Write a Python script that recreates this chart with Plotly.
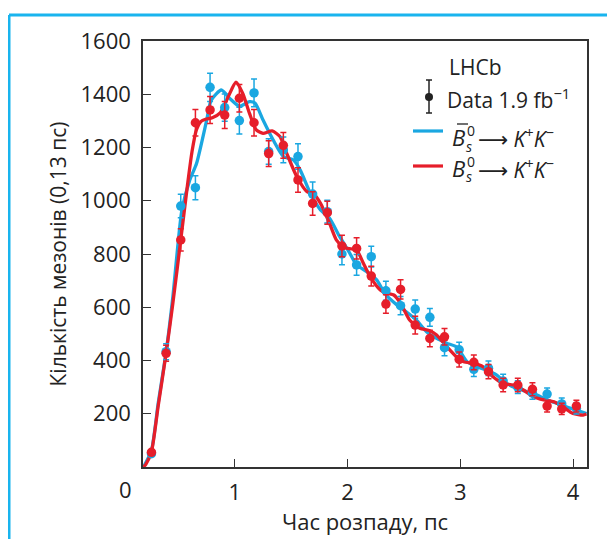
import plotly.graph_objects as go

# ---- data ----
bins = [0.26, 0.39, 0.52, 0.65, 0.78, 0.91, 1.04, 1.17, 1.30, 1.43,
        1.56, 1.69, 1.82, 1.95, 2.08, 2.21, 2.34, 2.47, 2.60, 2.73,
        2.86, 2.99, 3.12, 3.25, 3.38, 3.51, 3.64, 3.77, 3.90, 4.03]

blue_pts = [50, 433, 980, 1049, 1426, 1350, 1301, 1405, 1185, 1191,
            1166, 1025, 959, 800, 759, 790, 662, 606, 593, 562,
            448, 440, 367, 371, 323, 300, 277, 274, 237, 220]
blue_err = [10, 30, 44, 45, 53, 51, 50, 52, 48, 48,
            48, 45, 43, 40, 39, 39, 36, 34, 34, 33,
            30, 29, 27, 27, 25, 24, 23, 23, 22, 21]

red_pts = [55, 427, 853, 1293, 1341, 1322, 1385, 1293, 1177, 1208,
           1078, 990, 955, 830, 821, 717, 612, 667, 533, 483,
           489, 404, 393, 358, 308, 308, 292, 229, 218, 229]
red_err = [10, 30, 42, 50, 51, 51, 52, 50, 48, 48,
           46, 44, 43, 40, 40, 37, 35, 36, 33, 31,
           31, 28, 28, 27, 25, 25, 24, 22, 21, 22]

red_t = [0.19, 0.21, 0.26, 0.32, 0.39, 0.45, 0.52, 0.58, 0.62, 0.66,
         0.70, 0.74, 0.80, 0.87, 0.94, 1.01, 1.07, 1.13, 1.19, 1.25,
         1.33, 1.40, 1.46, 1.55, 1.64, 1.70, 1.76, 1.84, 1.90, 1.96,
         1.99, 2.08, 2.14, 2.20, 2.29, 2.35, 2.41, 2.47, 2.55, 2.64,
         2.73, 2.79, 2.88, 2.97, 3.03, 3.12, 3.20, 3.29, 3.38, 3.47,
         3.56, 3.65, 3.74, 3.83, 3.91, 4.00, 4.09, 4.12]
red_y = [0, 10, 57, 230, 427, 615, 853, 1060, 1185, 1268,
         1298, 1306, 1312, 1330, 1390, 1445, 1403, 1328, 1266, 1253,
         1262, 1241, 1178, 1090, 1034, 1025, 990, 915, 853, 827,
         822, 815, 765, 715, 665, 652, 646, 615, 552, 521,
         512, 496, 452, 412, 395, 389, 377, 339, 314, 308,
         289, 264, 252, 245, 226, 201, 195, 199]

blue_t = [0.19, 0.26, 0.32, 0.39, 0.45, 0.53, 0.60, 0.66, 0.75, 0.79,
          0.88, 0.96, 1.04, 1.13, 1.18, 1.25, 1.34, 1.43, 1.52, 1.58,
          1.67, 1.76, 1.84, 1.93, 2.01, 2.08, 2.17, 2.26, 2.33, 2.44,
          2.52, 2.61, 2.70, 2.79, 2.88, 2.97, 3.06, 3.15, 3.23, 3.32,
          3.41, 3.50, 3.59, 3.68, 3.77, 3.86, 3.94, 4.03, 4.12]
blue_y = [0, 62, 240, 432, 640, 965, 1078, 1140, 1303, 1378,
          1416, 1382, 1355, 1372, 1366, 1303, 1228, 1166, 1153, 1115,
          1028, 965, 934, 865, 810, 759, 734, 702, 652, 608,
          583, 552, 508, 483, 465, 450, 395, 377, 364, 346,
          314, 296, 283, 270, 252, 239, 226, 214, 201]

y_ticks = [200, 400, 600, 800, 1000, 1200, 1400, 1600]
x_ticks = [1, 2, 3, 4]

BLUE = "#1AA7E1"
RED = "#E61E2A"
FRAME = "#19B4EE"
INK = "#222222"
FONT = "Open Sans"

fig = go.Figure()
fig.add_trace(go.Scatter(x=blue_t, y=blue_y, mode="lines", line=dict(color=BLUE, width=3.3, shape="spline", smoothing=0.6), showlegend=False))
fig.add_trace(go.Scatter(x=red_t, y=red_y, mode="lines", line=dict(color=RED, width=3.3, shape="spline", smoothing=0.6), showlegend=False))
fig.add_trace(go.Scatter(x=bins, y=blue_pts, mode="markers",
                         marker=dict(color=BLUE, size=9.5),
                         error_y=dict(type="data", array=blue_err, color=BLUE, thickness=1.5, width=3),
                         showlegend=False))
fig.add_trace(go.Scatter(x=bins, y=red_pts, mode="markers",
                         marker=dict(color=RED, size=9.5),
                         error_y=dict(type="data", array=red_err, color=RED, thickness=1.5, width=3),
                         showlegend=False))

axis_common = dict(showgrid=False, zeroline=False, showline=True, linecolor="#333333", linewidth=1.5,
                   mirror=True, ticks="inside", tickcolor="#333333", tickwidth=1.3, ticklen=8,
                   automargin=False,
                   tickfont=dict(family=FONT, size=22, color=INK))
fig.update_xaxes(range=[0.185, 4.124], tickvals=x_ticks, ticktext=[str(v) for v in x_ticks],
                 title=dict(text="Час розпаду, пс", font=dict(family=FONT, size=22, color=INK), standoff=1),
                 ticklabelstandoff=5, **axis_common)
fig.update_yaxes(range=[0, 1600], tickvals=y_ticks, ticktext=[str(v) for v in y_ticks],
                 title=dict(text="Кількість мезонів (0,13 пс)", font=dict(family=FONT, size=21, color=INK), standoff=8),
                 ticklabelstandoff=6, **axis_common)

# the page body adds an 8 px offset; coordinates below are window pixels
def px2x(px):
    return (px - 143) / 444.0

def py2y(py):
    return (467 - py) / 426.0

def hline(x0, x1, y, color, w):
    return dict(type="line", xref="paper", yref="paper", x0=px2x(x0), x1=px2x(x1), y0=py2y(y), y1=py2y(y), line=dict(color=color, width=w))

def vline(x, y0, y1, color, w):
    return dict(type="line", xref="paper", yref="paper", x0=px2x(x), x1=px2x(x), y0=py2y(y0), y1=py2y(y1), line=dict(color=color, width=w))

shapes = [
    # frame
    hline(9, 625, 15, FRAME, 3),
    vline(9, 15, 545, FRAME, 3),
    # legend data symbol
    vline(429, 80, 113, INK, 1.5),
    hline(426, 432, 80, INK, 1.5),
    hline(426, 432, 113, INK, 1.5),
    dict(type="circle", xref="paper", yref="paper", x0=px2x(425), x1=px2x(433), y0=py2y(93), y1=py2y(101), fillcolor=INK, line=dict(color=INK, width=0)),
    # legend lines
    hline(413, 443, 131, BLUE, 3.2),
    hline(413, 443, 166, RED, 3.2),
    # overline on B-bar
    hline(457, 468, 124, INK, 1.3),
]

tf = dict(family=FONT, size=21, color=INK)
sf = dict(family=FONT, size=14, color=INK)

def ann(text, px, py, font, xanchor="left"):
    return dict(text=text, xref="paper", yref="paper", x=px2x(px), y=py2y(py), showarrow=False,
                font=font, xanchor=xanchor, yanchor="middle", borderpad=0)

annotations = [
    ann("LHCb", 475, 67, dict(family=FONT, size=21, color=INK), "center"),
    ann("Data 1.9 fb<sup>−1</sup>", 446, 98, tf),
    # anti-B row
    ann("<i>B</i>", 451, 137, dict(family=FONT, size=22, color=INK)),
    ann("0", 466, 130, sf),
    ann("<i>s</i>", 465, 146, sf),
    ann("<span style='font-family:DejaVu Sans'>⟶</span> <i>K</i><sup>+</sup><i>K</i><sup>−</sup>", 477, 137, tf),
    # B row
    ann("<i>B</i>", 451, 168, dict(family=FONT, size=22, color=INK)),
    ann("0", 466, 161, sf),
    ann("<i>s</i>", 465, 177, sf),
    ann("<span style='font-family:DejaVu Sans'>⟶</span> <i>K</i><sup>+</sup><i>K</i><sup>−</sup>", 477, 168, tf),
    ann("0", 125, 489, dict(family=FONT, size=22, color=INK), "center"),
]

fig.update_layout(
    width=615, height=539,
    margin=dict(l=135, r=36, t=33, b=80),
    paper_bgcolor="white", plot_bgcolor="white",
    shapes=shapes, annotations=annotations,
    showlegend=False,
)

fig.write_html("out.html")
